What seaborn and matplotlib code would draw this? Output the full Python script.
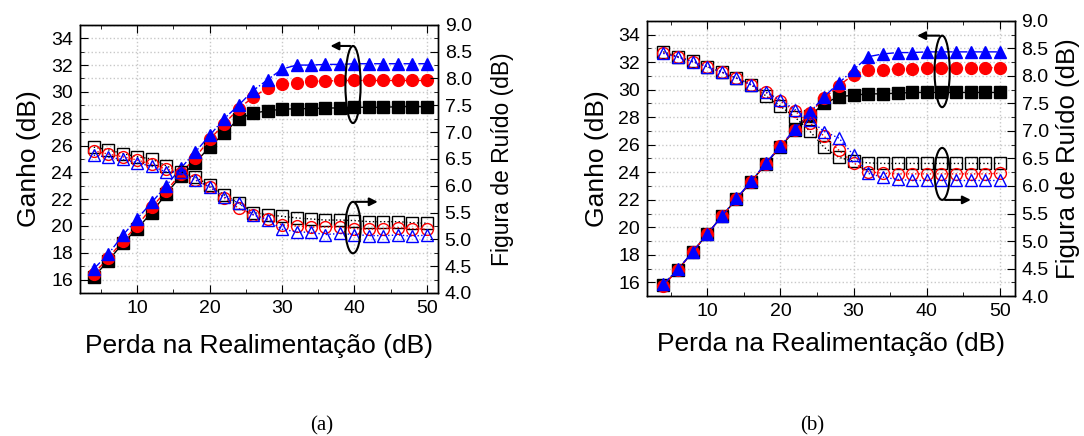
import matplotlib
matplotlib.use("Agg")
import matplotlib.pyplot as plt
import seaborn as sns
from matplotlib.patches import Ellipse
from matplotlib.ticker import MultipleLocator, FormatStrFormatter

perda = [4, 6, 8, 10, 12, 14, 16, 18, 20, 22, 24, 26, 28, 30, 32, 34, 36, 38, 40, 42, 44, 46, 48, 50]

# (a) ganho
ganho_a_preto = [16.2, 17.4, 18.7, 19.8, 21.0, 22.4, 23.7, 24.7, 25.9, 26.9, 28.0, 28.4,
                 28.6, 28.7, 28.75, 28.75, 28.8, 28.8, 28.85, 28.85, 28.85, 28.9, 28.9, 28.9]
ganho_a_verm = [16.45, 17.6, 18.9, 20.0, 21.4, 22.6, 23.9, 25.1, 26.45, 27.6, 28.75, 29.6,
                30.3, 30.6, 30.65, 30.8, 30.8, 30.85, 30.85, 30.85, 30.85, 30.85, 30.85, 30.85]
ganho_a_azul = [16.8, 17.9, 19.3, 20.55, 21.75, 23.0, 24.3, 25.5, 26.75, 28.0, 29.0, 30.1,
                30.9, 31.7, 32.0, 32.0, 32.05, 32.05, 32.1, 32.1, 32.1, 32.1, 32.1, 32.1]
# (a) figura de ruido
nf_a_preto = [6.72, 6.67, 6.6, 6.54, 6.5, 6.37, 6.26, 6.16, 6.01, 5.83, 5.68, 5.5,
              5.46, 5.43, 5.4, 5.38, 5.36, 5.36, 5.35, 5.33, 5.33, 5.33, 5.31, 5.3]
nf_a_verm = [6.65, 6.59, 6.54, 6.48, 6.4, 6.31, 6.24, 6.11, 5.98, 5.78, 5.58, 5.46,
             5.38, 5.27, 5.25, 5.23, 5.23, 5.23, 5.2, 5.19, 5.2, 5.22, 5.2, 5.19]
nf_a_azul = [6.57, 6.53, 6.49, 6.43, 6.36, 6.26, 6.26, 6.11, 5.98, 5.79, 5.68, 5.46,
             5.36, 5.19, 5.14, 5.13, 5.09, 5.11, 5.09, 5.07, 5.07, 5.08, 5.06, 5.08]

# (b) ganho
ganho_b_preto = [15.8, 16.9, 18.2, 19.5, 20.8, 22.05, 23.3, 24.6, 25.85, 27.05, 28.1, 29.0,
                 29.5, 29.6, 29.7, 29.7, 29.75, 29.8, 29.8, 29.8, 29.8, 29.8, 29.8, 29.8]
ganho_b_verm = [15.75, 16.9, 18.2, 19.5, 20.8, 22.05, 23.3, 24.6, 25.9, 27.1, 28.3, 29.4,
                30.3, 31.1, 31.45, 31.45, 31.5, 31.5, 31.55, 31.55, 31.55, 31.6, 31.6, 31.6]
ganho_b_azul = [15.85, 16.95, 18.2, 19.5, 20.8, 22.1, 23.35, 24.65, 25.9, 27.15, 28.35, 29.5,
                30.5, 31.45, 32.4, 32.6, 32.7, 32.7, 32.75, 32.75, 32.75, 32.75, 32.75, 32.75]
# (b) figura de ruido
nf_b_preto = [8.44, 8.35, 8.27, 8.17, 8.07, 7.96, 7.84, 7.64, 7.45, 7.25, 7.0, 6.7,
              6.52, 6.45, 6.42, 6.41, 6.41, 6.41, 6.41, 6.41, 6.41, 6.41, 6.41, 6.41]
nf_b_verm = [8.42, 8.34, 8.26, 8.17, 8.07, 7.96, 7.84, 7.7, 7.54, 7.36, 7.15, 6.9,
             6.65, 6.42, 6.26, 6.23, 6.22, 6.22, 6.22, 6.22, 6.22, 6.22, 6.22, 6.23]
nf_b_azul = [8.41, 8.34, 8.26, 8.17, 8.07, 7.96, 7.84, 7.71, 7.56, 7.39, 7.2, 6.99,
             6.87, 6.56, 6.23, 6.16, 6.12, 6.1, 6.1, 6.1, 6.1, 6.1, 6.1, 6.1]

sns.set_style("ticks")
plt.rcParams["font.family"] = ["Liberation Sans", "DejaVu Sans"]
plt.rcParams.update({"text.color": "k", "axes.labelcolor": "k",
                     "xtick.color": "k", "ytick.color": "k"})

fig = plt.figure(figsize=(10.84, 4.36), dpi=100)

estilos = [("k", "s", "-"), ("red", "o", "--"), ("blue", "^", "-.")]


def painel(pos, ganhos, nfs, xlim, elip_g, seta_g, elip_n, seta_n,
           nf_size, nf_pad, x_pad):
    ax = fig.add_axes(pos)
    ax2 = ax.twinx()
    for (cor, mk, ls), g, n in zip(estilos, ganhos, nfs):
        sns.lineplot(x=perda, y=g, ax=ax, color=cor, marker=mk, linestyle=ls,
                     linewidth=1.0, markersize=8.5, markeredgecolor=cor,
                     markeredgewidth=1.0)
        sns.lineplot(x=perda, y=n, ax=ax2, color=cor, marker=mk, linestyle=":",
                     linewidth=1.0, markersize=8.5, markerfacecolor="none",
                     markeredgecolor=cor, markeredgewidth=1.0)
    ax.set_xlim(*xlim)
    ax.set_ylim(15, 35)
    ax2.set_ylim(4, 9)
    ax.xaxis.set_major_locator(MultipleLocator(10))
    ax.xaxis.set_minor_locator(MultipleLocator(5))
    ax.yaxis.set_major_locator(MultipleLocator(2))
    ax.yaxis.set_minor_locator(MultipleLocator(1))
    ax2.yaxis.set_major_locator(MultipleLocator(0.5))
    ax2.yaxis.set_minor_locator(MultipleLocator(0.25))
    ax2.yaxis.set_major_formatter(FormatStrFormatter("%.1f"))
    ax.grid(True, which="major", axis="x", color="#c8c8c8", linestyle=":", linewidth=1)
    ax.grid(True, which="both", axis="y", color="#c8c8c8", linestyle=":", linewidth=1)
    ax.set_axisbelow(True)
    for a in (ax, ax2):
        a.tick_params(which="both", direction="in", labelsize=14, pad=5)
        a.tick_params(which="major", length=6)
        a.tick_params(which="minor", length=3)
        for s in a.spines.values():
            s.set_color("k")
            s.set_linewidth(1.0)
    ax.tick_params(which="both", top=True)
    ax.set_xlabel("Perda na Realimentação (dB)", fontsize=19, labelpad=x_pad)
    ax.set_ylabel("Ganho (dB)", fontsize=19, labelpad=7)
    ax2.set_ylabel("Figura de Ruído (dB)", fontsize=nf_size, labelpad=nf_pad)

    cx, cy, w, h = elip_g
    ax.add_patch(Ellipse((cx, cy), w, h, fill=False, edgecolor="k", lw=1.5, zorder=5))
    ax.annotate("", xy=(seta_g, cy + h / 2), xytext=(cx, cy + h / 2),
                arrowprops=dict(arrowstyle="-|>", color="k", lw=1.5, mutation_scale=12))
    cx, cy, w, h, topo = elip_n
    ax2.add_patch(Ellipse((cx, cy), w, h, fill=False, edgecolor="k", lw=1.5, zorder=5))
    ya = cy + h / 2 if topo else cy - h / 2
    ax2.annotate("", xy=(seta_n, ya), xytext=(cx, ya),
                 arrowprops=dict(arrowstyle="-|>", color="k", lw=1.5, mutation_scale=12))
    return ax


painel([0.0738, 0.328, 0.330, 0.615],
       [ganho_a_preto, ganho_a_verm, ganho_a_azul],
       [nf_a_preto, nf_a_verm, nf_a_azul],
       (2.1, 51.5), (39.8, 30.55, 2.1, 5.75), 36.3,
       (39.8, 5.22, 2.1, 0.96, True), 43.6,
       16.5, 14, 12)

painel([0.597, 0.321, 0.339, 0.631],
       [ganho_b_preto, ganho_b_verm, ganho_b_azul],
       [nf_b_preto, nf_b_verm, nf_b_azul],
       (1.8, 52.0), (42.1, 31.33, 2.06, 5.2), 38.3,
       (42.1, 6.22, 2.06, 0.945, False), 46.4,
       18.5, 5, 9)

serif = ["Liberation Serif", "DejaVu Serif"]
fig.text(0.297, 0.012, "(a)", fontsize=15, family=serif, ha="center")
fig.text(0.749, 0.012, "(b)", fontsize=15, family=serif, ha="center")

fig.savefig("out.png", dpi=100)
